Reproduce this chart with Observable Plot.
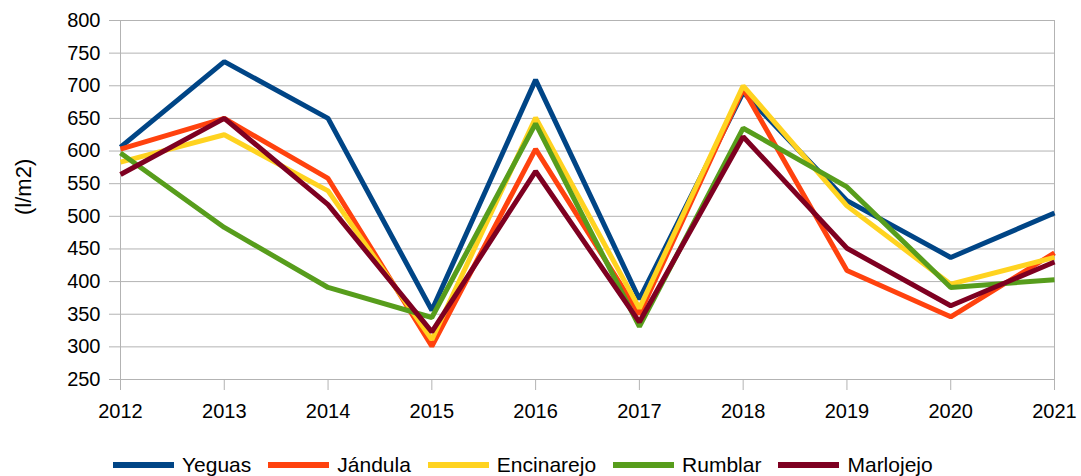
<!DOCTYPE html>
<html>
<head>
<meta charset="utf-8">
<script src="https://cdn.jsdelivr.net/npm/d3@7"></script>
<script src="https://cdn.jsdelivr.net/npm/@observablehq/plot@0.6"></script>
<style>
  html, body { margin: 0; padding: 0; background: #fff; }
  body { width: 1081px; height: 476px; overflow: hidden; font-family: "Liberation Sans", Arial, sans-serif; }
  #legend { display: flex; justify-content: flex-start; align-items: center; padding-top: 8px; height: 23px; padding-left: 113px; font-size: 21px; color: #000; }
  .item { display: flex; align-items: center; margin-right: 17px; }
  .sw { width: 61px; height: 6px; margin-right: 8px; }
</style>
</head>
<body>
<div id="chart"></div>
<div id="legend"></div>
<script>
const years = [2012, 2013, 2014, 2015, 2016, 2017, 2018, 2019, 2020, 2021];
const seriesNames = ["Yeguas", "Jándula", "Encinarejo", "Rumblar", "Marlojejo"];
const colors = ["#004586", "#ff420e", "#ffd320", "#579d1c", "#7e0021"];
const yeguas     = [606, 737, 650, 356, 709, 373, 690, 524, 437, 505];
const jandula    = [603, 650, 558, 301, 603, 350, 695, 417, 346, 444];
const encinarejo = [583, 625, 539, 311, 651, 359, 700, 516, 396, 437];
const rumblar    = [597, 483, 391, 345, 642, 331, 635, 545, 391, 403];
const marlojejo  = [564, 650, 518, 323, 569, 338, 622, 451, 363, 430];
const yTicks = [250, 300, 350, 400, 450, 500, 550, 600, 650, 700, 750, 800];
const yTitle = "(l/m2)";

const allValues = [yeguas, jandula, encinarejo, rumblar, marlojejo];
const data = [];
seriesNames.forEach((name, i) => {
  years.forEach((yr, j) => data.push({series: name, year: yr, value: allValues[i][j]}));
});

const grid = "#b3b3b3";
const chart = Plot.plot({
  width: 1081,
  height: 445,
  marginLeft: 120,
  marginRight: 27,
  marginTop: 20,
  marginBottom: 66,
  style: {fontFamily: "Liberation Sans, Arial, sans-serif", fontSize: "20px", color: "#000", background: "#fff", overflow: "visible"},
  x: {type: "linear", domain: [2012, 2021], ticks: years, tickFormat: d => String(d), tickSize: 11, tickPadding: 13, label: null},
  y: {domain: [250, 800], ticks: yTicks, tickSize: 11, tickPadding: 9, label: null},
  color: {domain: seriesNames, range: colors},
  marks: [
    Plot.gridY(yTicks, {stroke: grid, strokeOpacity: 1, strokeWidth: 1}),
    Plot.ruleX([2012, 2021], {y1: 250, y2: 800, stroke: grid, strokeWidth: 1}),
    Plot.axisX({ticks: years, tickFormat: d => String(d), tickSize: 11, tickPadding: 13, stroke: grid, label: null}),
    Plot.axisY({ticks: yTicks, tickSize: 11, tickPadding: 9, stroke: grid, label: null}),
    Plot.text([yTitle], {text: d => d, frameAnchor: "left", dx: -97, dy: 15, rotate: -90, fontSize: 22, fill: "#000"}),
    Plot.line(data, {x: "year", y: "value", z: "series", stroke: "series", strokeWidth: 5, strokeLinejoin: "miter", strokeLinecap: "butt"})
  ]
});
document.getElementById("chart").appendChild(chart);

const legend = document.getElementById("legend");
seriesNames.forEach((name, i) => {
  const it = document.createElement("div");
  it.className = "item";
  const sw = document.createElement("div");
  sw.className = "sw";
  sw.style.background = colors[i];
  const t = document.createElement("span");
  t.textContent = name;
  it.appendChild(sw); it.appendChild(t);
  legend.appendChild(it);
});
</script>
</body>
</html>
